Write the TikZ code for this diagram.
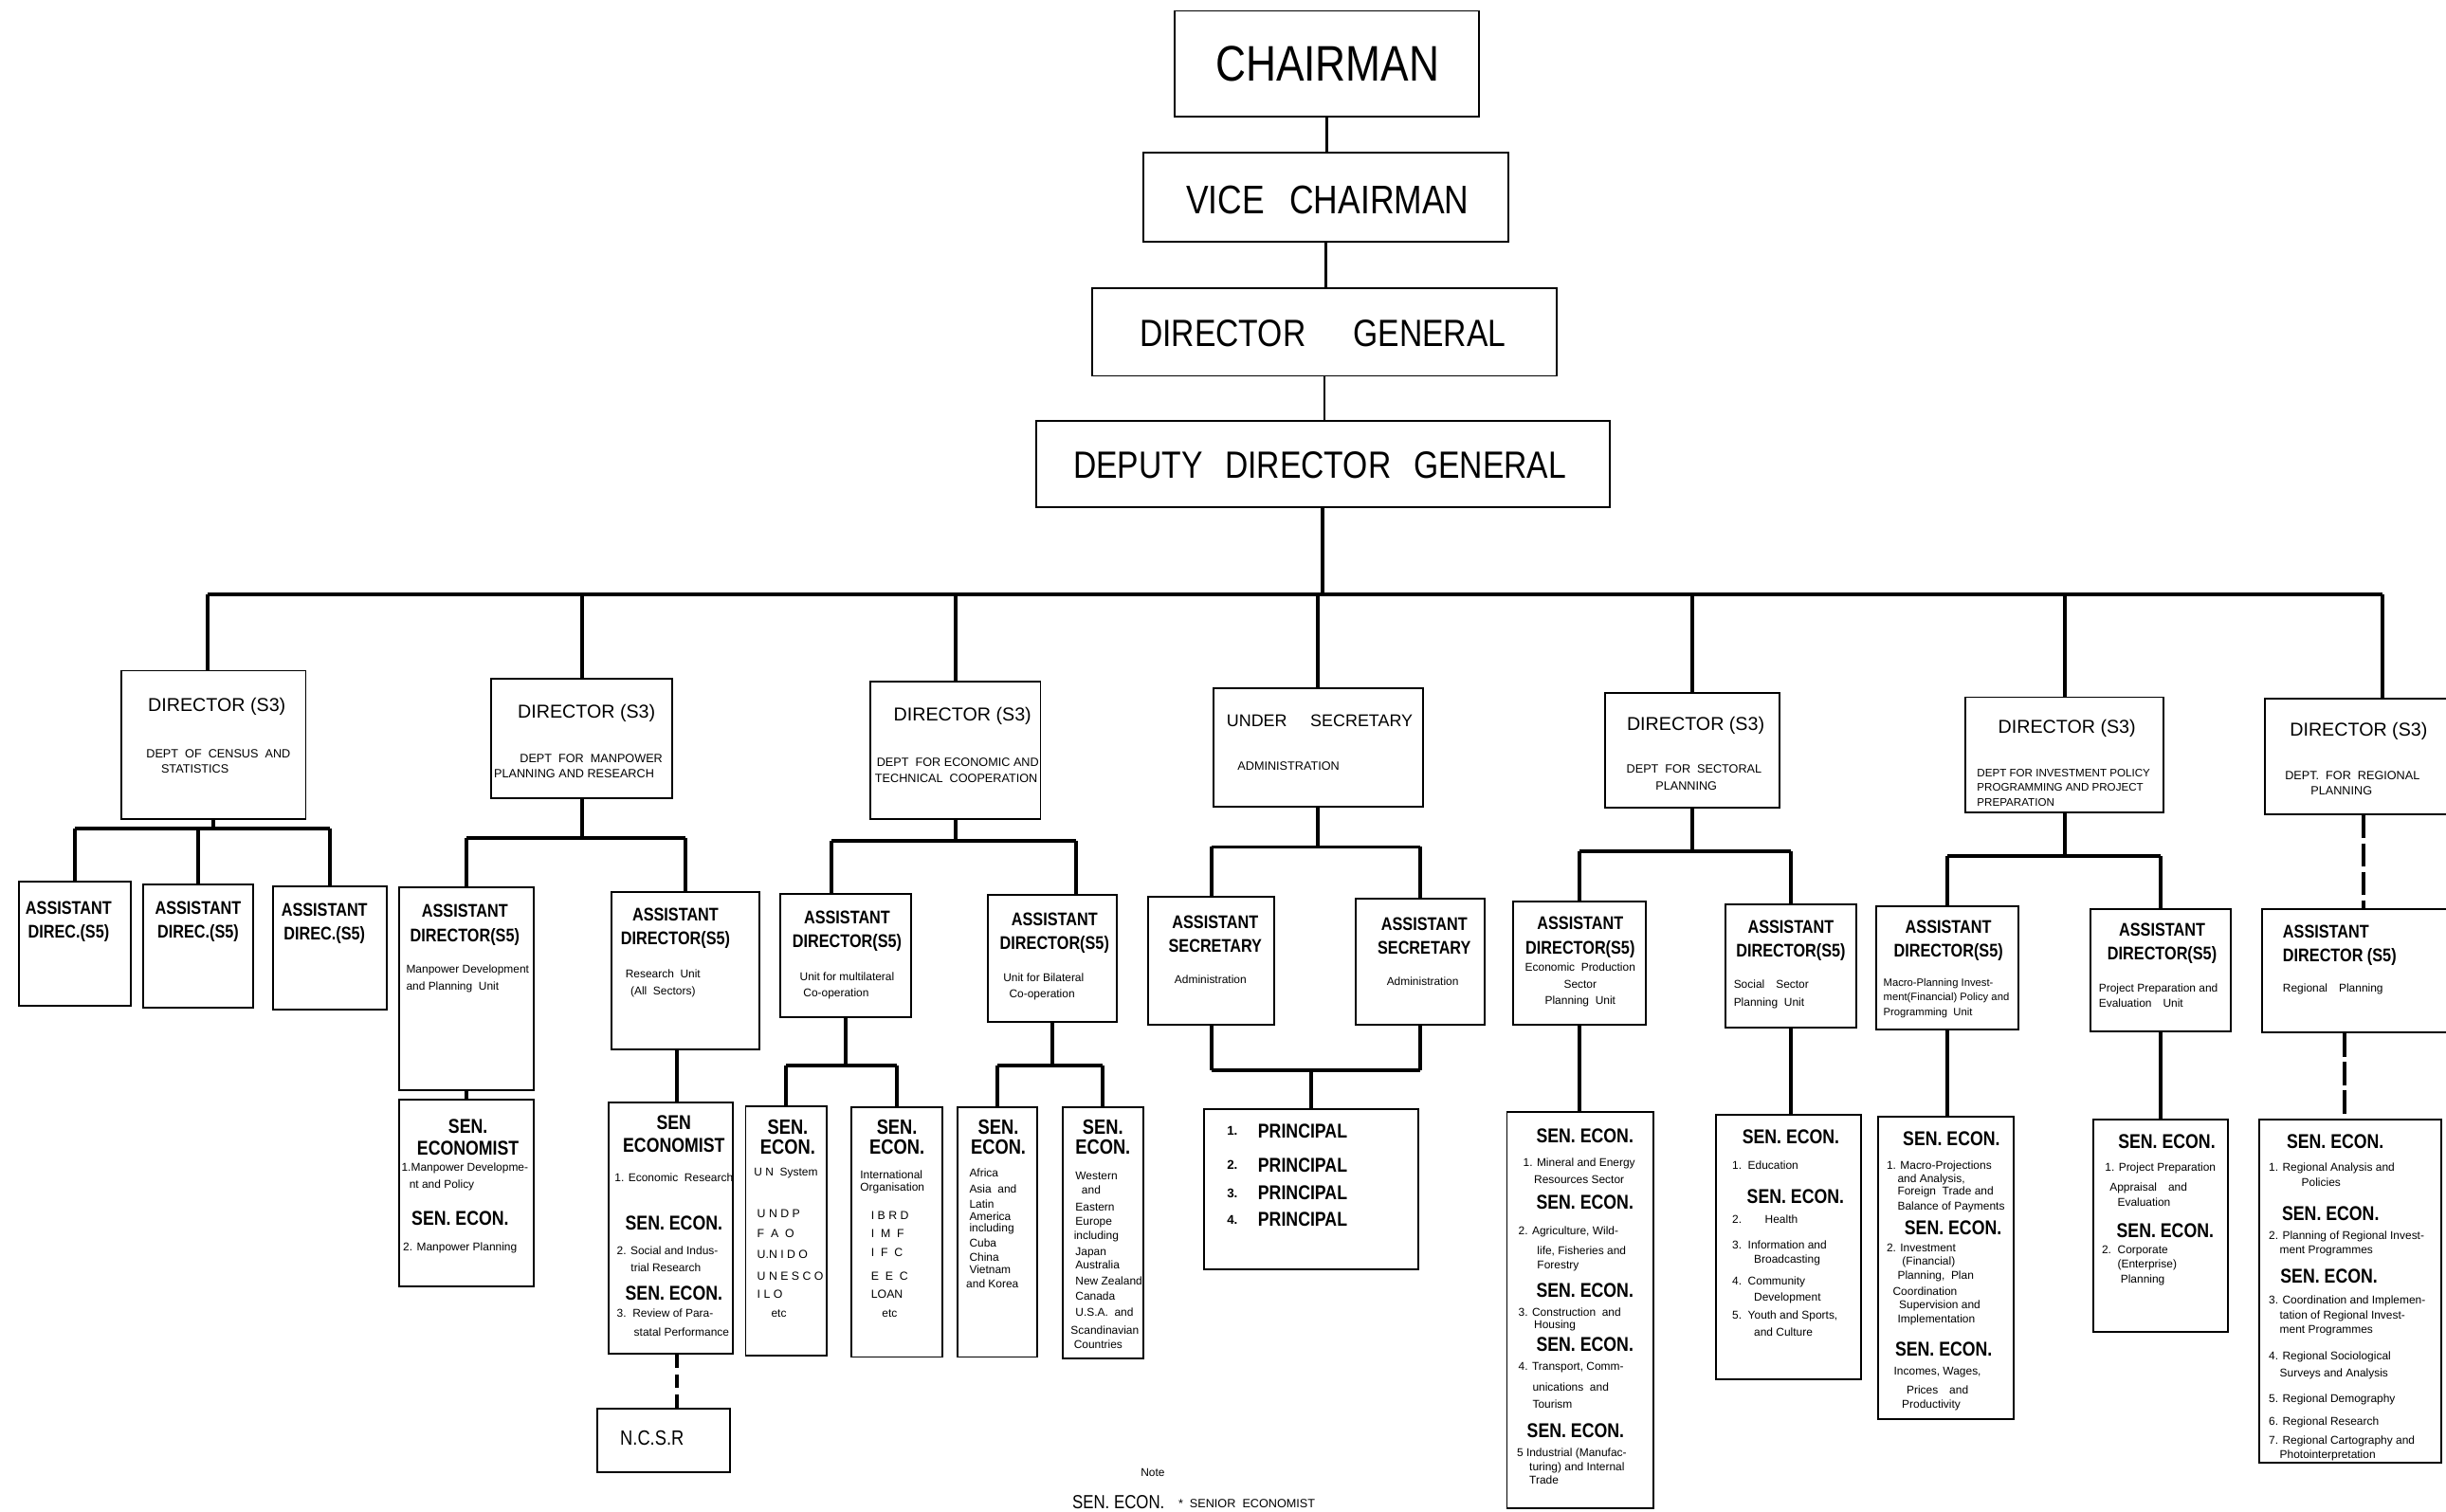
\documentclass[tikz,border=0pt]{standalone}
\usepackage{fontspec}
\setmainfont{Liberation Sans}
\usepackage{graphicx}
\usetikzlibrary{fit}
\newcommand{\nrw}[1]{\scalebox{0.84}[1]{#1}}
\begin{document}
\begin{tikzpicture}[x=0.016454cm,y=-0.016454cm,
  bx/.style={draw,line width=0.55pt,inner sep=0pt},
  conn/.style={line width=1.1pt},
  tconn/.style={line width=0.7pt},
  rdash/.style={line width=1.1pt,dash pattern=on 7pt off 1.5pt},
  ndash/.style={line width=1.3pt,dash pattern=on 4pt off 2pt},
  lbl/.style={inner sep=0pt,align=center},
  lt/.style={inner sep=0pt,anchor=west,align=left},
  fA/.style={font=\fontsize{15}{18}\selectfont},
  fB/.style={font=\fontsize{12}{14}\selectfont},
  fC/.style={font=\fontsize{11.4}{14}\selectfont},
  fD/.style={font=\fontsize{5.6}{7}\selectfont},
  fE/.style={font=\fontsize{3.6}{4.7}\selectfont},
  fF/.style={font=\fontsize{5.5}{7.2}\selectfont\bfseries},
  fG/.style={font=\fontsize{6.0}{6.6}\selectfont\bfseries},
  fS/.style={font=\fontsize{3.4}{4.4}\selectfont},
]
\path[use as bounding box,fill=white] (0,0) rectangle (1568,969);

% ---------- top chain ----------
\node[bx,fit={(753,7)(948,75)}] (chair) {};
\node[lbl,fA] (chairT) at (851,41) {\nrw{CHAIRMAN}};
\node[bx,fit={(733,98)(967,155)}] (vice) {};
\node[lbl,fB] (viceT) at (851,128) {\nrw{VICE\hspace{9pt}CHAIRMAN}};
\node[bx,fit={(700,185)(998,241)}] (dg) {};
\node[lbl,fC] (dgT) at (848,214) {\nrw{DIRECTOR\hspace{17pt}GENERAL}};
\node[bx,fit={(664,270)(1032,325)}] (ddg) {};
\node[lbl,fC] (ddgT) at (846,298) {\nrw{DEPUTY\hspace{8pt}DIRECTOR\hspace{8pt}GENERAL}};

\draw[tconn] (chair.south) -- (chair.south |- vice.north);
\draw[tconn] (vice.south) -- (vice.south |- dg.north);
\draw[tconn] (dg.south) -- (dg.south |- ddg.north);

% ---------- directors ----------
\node[bx,fit={(78,430)(196,525)}] (d1) {};
\node[lbl,fD] (d1T) at (139,453) {DIRECTOR (S3)};
\node[lbl,fE] (d1a) at (140,483) {DEPT\ \ OF\ \ CENSUS\ \ AND};
\node[lbl,fE] (d1b) at (125,493) {STATISTICS};

\node[bx,fit={(315,435)(431,512)}] (d2) {};
\node[lbl,fD] (d2T) at (376,457) {DIRECTOR (S3)};
\node[lbl,fE] (d2a) at (379,486) {DEPT\ \ FOR\ \ MANPOWER};
\node[lbl,fE] (d2b) at (368,496) {PLANNING AND RESEARCH};

\node[bx,fit={(558,437)(667,525)}] (d3) {};
\node[lbl,fD] (d3T) at (617,459) {DIRECTOR (S3)};
\node[lbl,fE] (d3a) at (614,489) {DEPT\ \ FOR ECONOMIC AND};
\node[lbl,fE] (d3b) at (613,499) {TECHNICAL\ \ COOPERATION};

\node[bx,fit={(778,441)(912,517)}] (d4) {};
\node[lbl,font=\fontsize{5.1}{7}\selectfont] (d4T) at (846,462) {UNDER\hspace{7pt}SECRETARY};
\node[lbl,fE] (d4a) at (826,491) {ADMINISTRATION};

\node[bx,fit={(1029,444)(1141,518)}] (d5) {};
\node[lbl,fD] (d5T) at (1087,465) {DIRECTOR (S3)};
\node[lbl,fE] (d5a) at (1086,493) {DEPT\ \ FOR\ \ SECTORAL};
\node[lbl,fE] (d5b) at (1081,504) {PLANNING};

\node[bx,fit={(1260,447)(1387,521)}] (d6) {};
\node[lbl,fD] (d6T) at (1325,467) {DIRECTOR (S3)};
\node[lt,font=\fontsize{3.3}{4.3}\selectfont] (d6a) at (1267,505) {DEPT FOR INVESTMENT POLICY\\PROGRAMMING AND PROJECT\\PREPARATION};

\node[bx,fit={(1452,448)(1580,522)}] (d7) {};
\node[lbl,fD] (d7T) at (1512,469) {DIRECTOR (S3)};
\node[lbl,fE] (d7a) at (1508,497) {DEPT.\ \ FOR\ \ REGIONAL};
\node[lbl,fE] (d7b) at (1501,507) {PLANNING};

% main bus
\coordinate (busL) at (133,381);
\coordinate (busR) at (1527,381);
\draw[conn] (ddg.south) -- (ddg.south |- busL);
\draw[conn] (busL) -- (busR);
\draw[conn] (busL) -- (busL |- d1.north);
\foreach \d in {d2,d3,d4,d5,d6} \draw[conn] (\d.north |- busL) -- (\d.north);
\draw[conn] (busR) -- (busR |- d7.north);

% ---------- assistants ----------
\node[bx,fit={(12,565)(84,645)}] (a11) {};
\node[lbl,fF] (a11T) at (44,591) {\nrw{ASSISTANT}\\\nrw{DIREC.(S5)}};
\node[bx,fit={(92,567)(162,646)}] (a12) {};
\node[lbl,fF] (a12T) at (127,591) {\nrw{ASSISTANT}\\\nrw{DIREC.(S5)}};
\node[bx,fit={(175,568)(248,647)}] (a13) {};
\node[lbl,fF] (a13T) at (208,592) {\nrw{ASSISTANT}\\\nrw{DIREC.(S5)}};

\node[bx,fit={(256,569)(342,699)}] (a21) {};
\node[lbl,fF] (a21T) at (298,593) {\nrw{ASSISTANT}\\\nrw{DIRECTOR(S5)}};
\node[lt,fS] (a21a) at (260,622) {Manpower Development};
\node[lt,fS] (a21b) at (260,633) {and Planning\ \ Unit};

\node[bx,fit={(392,572)(487,673)}] (a22) {};
\node[lbl,fF] (a22T) at (433,595) {\nrw{ASSISTANT}\\\nrw{DIRECTOR(S5)}};
\node[lbl,fS] (a22a) at (425,624) {Research\ \ Unit};
\node[lbl,fS] (a22b) at (425,636) {(All\ \ Sectors)};

\node[bx,fit={(500,573)(584,652)}] (a31) {};
\node[lbl,fF] (a31T) at (543,597) {\nrw{ASSISTANT}\\\nrw{DIRECTOR(S5)}};
\node[lbl,fS] (a31a) at (543,626) {Unit for multilateral};
\node[lbl,fS] (a31b) at (536,637) {Co-operation};

\node[bx,fit={(633,574)(716,655)}] (a32) {};
\node[lbl,fF] (a32T) at (676,598) {\nrw{ASSISTANT}\\\nrw{DIRECTOR(S5)}};
\node[lbl,fS] (a32a) at (669,627) {Unit for Bilateral};
\node[lbl,fS] (a32b) at (668,638) {Co-operation};

\node[bx,fit={(736,575)(817,657)}] (a41) {};
\node[lbl,fF] (a41T) at (779,599) {\nrw{ASSISTANT}\\\nrw{SECRETARY}};
\node[lbl,fS] (a41a) at (776,628) {Administration};

\node[bx,fit={(869,576)(952,657)}] (a42) {};
\node[lbl,fF] (a42T) at (913,600) {\nrw{ASSISTANT}\\\nrw{SECRETARY}};
\node[lbl,fS] (a42a) at (912,629) {Administration};

\node[bx,fit={(970,578)(1055,657)}] (a51) {};
\node[lbl,fF] (a51T) at (1013,601) {\nrw{ASSISTANT}\\\nrw{DIRECTOR(S5)}};
\node[lbl,fS] (a51a) at (1013,620) {Economic\ \ Production};
\node[lbl,fS] (a51b) at (1013,631) {Sector};
\node[lbl,fS] (a51c) at (1013,642) {Planning\ \ Unit};

\node[bx,fit={(1106,580)(1190,659)}] (a52) {};
\node[lbl,fF] (a52T) at (1148,603) {\nrw{ASSISTANT}\\\nrw{DIRECTOR(S5)}};
\node[lt,fS] (a52a) at (1111,631) {Social\quad Sector};
\node[lt,fS] (a52b) at (1111,643) {Planning\ \ Unit};

\node[bx,fit={(1203,581)(1294,660)}] (a61) {};
\node[lbl,fF] (a61T) at (1249,603) {\nrw{ASSISTANT}\\\nrw{DIRECTOR(S5)}};
\node[lt,font=\fontsize{3.2}{4.3}\selectfont] (a61a) at (1207,640) {Macro-Planning Invest-\\ment(Financial) Policy and\\Programming\ \ Unit};

\node[bx,fit={(1340,583)(1430,661)}] (a62) {};
\node[lbl,fF] (a62T) at (1386,605) {\nrw{ASSISTANT}\\\nrw{DIRECTOR(S5)}};
\node[lt,fS] (a62a) at (1345,634) {Project Preparation and};
\node[lt,fS] (a62b) at (1345,643) {Evaluation\quad Unit};

\node[bx,fit={(1450,583)(1580,662)}] (a7) {};
\node[lt,fF] (a7T) at (1463,606) {\nrw{ASSISTANT}\\\nrw{DIRECTOR (S5)}};
\node[lt,fS] (a7a) at (1463,634) {Regional\quad Planning};

% director -> assistant connectors
\coordinate (y1) at (0,531);
\draw[conn] (d1.south) -- (d1.south |- y1);
\draw[conn] (a11.north |- y1) -- (a13.north |- y1);
\foreach \a in {a11,a12,a13} \draw[conn] (\a.north |- y1) -- (\a.north);

\coordinate (y2) at (0,537);
\draw[conn] (d2.south) -- (d2.south |- y2);
\draw[conn] (a21.north |- y2) -- (a22.north |- y2);
\foreach \a in {a21,a22} \draw[conn] (\a.north |- y2) -- (\a.north);

\coordinate (eL) at (533,539);
\coordinate (eR) at (690,539);
\draw[conn] (d3.south) -- (d3.south |- eL);
\draw[conn] (eL) -- (eR);
\draw[conn] (eL) -- (eL |- a31.north);
\draw[conn] (eR) -- (eR |- a32.north);

\coordinate (y4) at (0,543);
\draw[conn] (d4.south) -- (d4.south |- y4);
\draw[conn] (a41.north |- y4) -- (a42.north |- y4);
\foreach \a in {a41,a42} \draw[conn] (\a.north |- y4) -- (\a.north);

\coordinate (y5) at (0,546);
\draw[conn] (d5.south) -- (d5.south |- y5);
\draw[conn] (a51.north |- y5) -- (a52.north |- y5);
\foreach \a in {a51,a52} \draw[conn] (\a.north |- y5) -- (\a.north);

\coordinate (y6) at (0,549);
\draw[conn] (d6.south) -- (d6.south |- y6);
\draw[conn] (a61.north |- y6) -- (a62.north |- y6);
\foreach \a in {a61,a62} \draw[conn] (\a.north |- y6) -- (\a.north);

\coordinate (r1) at (1515,0);
\draw[rdash] (d7.south -| r1) -- (a7.north -| r1);

% ---------- third level ----------
% manpower
\node[bx,fit={(256,705)(342,825)}] (s21) {};
\node[lbl,font=\fontsize{6.0}{6.6}\selectfont\bfseries] (s21T) at (300,729) {\nrw{SEN.}\\\nrw{ECONOMIST}};
\node[lt,fS] (s21a) at (257,749) {1.Manpower Developme-};
\node[lt,fS] (s21b) at (262,760) {nt and Policy};
\node[lbl,fG] (s21c) at (295,781) {\nrw{SEN.\ ECON.}};
\node[lt,fS] (s21d) at (258,800) {2. Manpower Planning};
\draw[conn] (a21.south) -- (a21.south |- s21.north);

\node[bx,fit={(390,707)(470,868)}] (s22) {};
\node[lbl,font=\fontsize{6.0}{6.6}\selectfont\bfseries] (s22T) at (432,727) {\nrw{SEN}\\\nrw{ECONOMIST}};
\node[lbl,fS] (s22a) at (432,755) {1. Economic\ \ Research};
\node[lbl,fG] (s22b) at (432,784) {\nrw{SEN.\ ECON.}};
\node[lt,fS] (s22c) at (395,802) {2. Social and Indus-};
\node[lt,fS] (s22d) at (404,813) {trial Research};
\node[lbl,fG] (s22e) at (432,829) {\nrw{SEN.\ ECON.}};
\node[lt,fS] (s22f) at (395,842) {3.\ \ Review of Para-};
\node[lt,fS] (s22g) at (406,854) {statal Performance};
\coordinate (m2) at (434,0);
\draw[conn] (a22.south -| m2) -- (s22.north -| m2);

\node[bx,fit={(383,903)(468,944)}] (ncsr) {};
\node[lbl,font=\fontsize{6.2}{7}\selectfont] (ncsrT) at (418,922) {\nrw{N.C.S.R}};
\draw[ndash] (s22.south -| m2) -- (ncsr.north -| m2);

% economic & technical cooperation
\node[bx,fit={(478,709)(530,869)}] (s31) {};
\node[lbl,font=\fontsize{6.2}{5.8}\selectfont\bfseries] (s31T) at (505,729) {\nrw{SEN.}\\\nrw{ECON.}};
\node[lt,fS] (s31a) at (483,752) {U N\ \ System};
\foreach \y/\txt [count=\i] in {778/{U N D P},791/{F\ \ A\ \ O},804/{U.N I D O},818/{U N E S C O},830/{I L O}}
  \node[lt,font=\fontsize{3.5}{4}\selectfont] (s31l\i) at (485,\y) {\txt};
\node[lt,fS] (s31e) at (494,842) {etc};

\node[bx,fit={(546,710)(604,870)}] (s32) {};
\node[lbl,font=\fontsize{6.2}{5.8}\selectfont\bfseries] (s32T) at (575,729) {\nrw{SEN.}\\\nrw{ECON.}};
\node[lt,fS] (s32a) at (551,753) {International};
\node[lt,fS] (s32b) at (551,762) {Organisation};
\foreach \y/\txt [count=\i] in {779/{I B R D},791/{I\ \ M\ \ F},803/{I\ \ F\ \ C},818/{E\ \ E\ \ C},830/{LOAN}}
  \node[lt,font=\fontsize{3.5}{4}\selectfont] (s32l\i) at (558,\y) {\txt};
\node[lt,fS] (s32e) at (565,842) {etc};

\node[bx,fit={(614,710)(665,870)}] (s33) {};
\node[lbl,font=\fontsize{6.2}{5.8}\selectfont\bfseries] (s33T) at (640,729) {\nrw{SEN.}\\\nrw{ECON.}};
\foreach \x/\y/\txt [count=\i] in {621/752/Africa,621/762/{Asia\ \ and},621/772/Latin,621/780/America,621/788/including,621/797/Cuba,621/806/China,621/814/Vietnam,619/823/{and Korea}}
  \node[lt,fS] (s33l\i) at (\x,\y) {\txt};

\node[bx,fit={(681,710)(733,871)}] (s34) {};
\node[lbl,font=\fontsize{6.2}{5.8}\selectfont\bfseries] (s34T) at (707,729) {\nrw{SEN.}\\\nrw{ECON.}};
\foreach \x/\y/\txt [count=\i] in {689/754/Western,693/763/and,689/774/Eastern,689/784/Europe,688/793/including,689/803/Japan,689/811/Australia,689/821/{New Zealand},689/831/Canada,689/841/{U.S.A.\ \ and},686/853/Scandinavian,688/862/Countries}
  \node[lt,fS] (s34l\i) at (\x,\y) {\txt};

\coordinate (y7) at (0,683);
\draw[conn] (a31.south) -- (a31.south |- y7);
\draw[conn] (s31.north |- y7) -- (s32.north |- y7);
\foreach \s in {s31,s32} \draw[conn] (\s.north |- y7) -- (\s.north);
\draw[conn] (a32.south) -- (a32.south |- y7);
\draw[conn] (s33.north |- y7) -- (s34.north |- y7);
\foreach \s in {s33,s34} \draw[conn] (\s.north |- y7) -- (\s.north);

% under secretary -> principals
\node[bx,fit={(772,711)(909,814)}] (prin) {};
\foreach \y [count=\i] in {725,747,765,782} {
  \node[lbl,font=\fontsize{3.8}{4}\selectfont\bfseries] (pn\i) at (790,\y) {\i.};
  \node[lt,fG] (pp\i) at (806,\y) {\nrw{PRINCIPAL}};
}
\coordinate (y8) at (0,686);
\draw[conn] (a41.south) -- (a41.south |- y8);
\draw[conn] (a42.south) -- (a42.south |- y8);
\draw[conn] (a41.south |- y8) -- (a42.south |- y8);
\draw[conn] (prin.north |- y8) -- (prin.north);

% sectoral
\node[bx,fit={(966,713)(1060,967)}] (s51) {};
\foreach \x/\y [count=\i] in {1016/728,1016/771,1016/827,1016/862,1010/917}
  \node[lbl,fG] (s51h\i) at (\x,\y) {\nrw{SEN.\ ECON.}};
\foreach \x/\y/\txt [count=\i] in {976/746/{1. Mineral and Energy},983/756/{Resources Sector},973/790/{2. Agriculture, Wild-},985/802/{life, Fisheries and},985/812/{Forestry},973/841/{3. Construction\ \ and},983/850/{Housing},973/877/{4. Transport, Comm-},982/889/{unications\ \ and},982/900/{Tourism},972/932/{5 Industrial (Manufac-},980/941/{turing) and Internal},980/949/{Trade}}
  \node[lt,fS] (s51l\i) at (\x,\y) {\txt};
\draw[conn] (a51.south) -- (a51.south |- s51.north);

\node[bx,fit={(1100,715)(1193,884)}] (s52) {};
\node[lbl,fG] (s52h1) at (1148,729) {\nrw{SEN.\ ECON.}};
\node[lbl,fG] (s52h2) at (1151,767) {\nrw{SEN.\ ECON.}};
\foreach \x/\y/\txt [count=\i] in {1110/747/{1.\ \ Education},1110/782/{2.\hspace{7pt}Health},1110/798/{3.\ \ Information and},1124/808/{Broadcasting},1110/822/{4.\ \ Community},1124/832/{Development},1110/844/{5.\ \ Youth and Sports,},1124/854/{and Culture}}
  \node[lt,fS] (s52l\i) at (\x,\y) {\txt};
\draw[conn] (a52.south) -- (a52.south |- s52.north);

% investment
\node[bx,fit={(1204,716)(1291,910)}] (s61) {};
\foreach \x/\y [count=\i] in {1251/730,1252/787,1246/865}
  \node[lbl,fG] (s61h\i) at (\x,\y) {\nrw{SEN.\ ECON.}};
\foreach \x/\y/\txt [count=\i] in {1209/748/{1. Macro-Projections},1216/756/{and Analysis,},1216/764/{Foreign\ \ Trade and},1216/774/{Balance of Payments},1209/800/{2. Investment},1219/809/{(Financial)},1216/818/{Planning,\ \ Plan},1213/828/{Coordination},1217/837/{Supervision and},1216/846/{Implementation}}
  \node[lt,fS] (s61l\i) at (\x,\y) {\txt};
\foreach \x/\y/\txt [count=\i] in {1242/880/{Incomes, Wages,},1242/891/{Prices\quad and},1238/901/{Productivity}}
  \node[lbl,fS] (s61m\i) at (\x,\y) {\txt};
\draw[conn] (a61.south) -- (a61.south |- s61.north);

\node[bx,fit={(1342,718)(1428,854)}] (s62) {};
\node[lbl,fG] (s62h1) at (1389,732) {\nrw{SEN.\ ECON.}};
\node[lbl,fG] (s62h2) at (1388,789) {\nrw{SEN.\ ECON.}};
\foreach \x/\y/\txt [count=\i] in {1349/749/{1. Project Preparation},1352/762/{Appraisal\quad and},1357/771/{Evaluation},1347/802/{2.\ \ Corporate},1357/811/{(Enterprise)},1359/821/{Planning}}
  \node[lt,fS] (s62l\i) at (\x,\y) {\txt};
\draw[conn] (a62.south) -- (a62.south |- s62.north);

% regional
\node[bx,fit={(1448,718)(1565,938)}] (s7) {};
\foreach \x/\y [count=\i] in {1497/732,1494/778,1493/818}
  \node[lbl,fG] (s7h\i) at (\x,\y) {\nrw{SEN.\ ECON.}};
\foreach \x/\y/\txt [count=\i] in {1454/749/{1. Regional Analysis and},1475/758/{Policies},1454/793/{2. Planning of Regional Invest-},1461/802/{ment Programmes},1454/834/{3. Coordination and Implemen-},1461/844/{tation of Regional Invest-},1461/853/{ment Programmes},1454/870/{4. Regional Sociological},1461/881/{Surveys and Analysis},1454/897/{5. Regional Demography},1454/912/{6. Regional Research},1454/924/{7. Regional Cartography and},1461/933/{Photointerpretation}}
  \node[lt,fS] (s7l\i) at (\x,\y) {\txt};
\coordinate (r2) at (1503,0);
\draw[rdash] (a7.south -| r2) -- (s7.north -| r2);

% note
\node[lbl,fS] (note) at (739,944) {Note};
\node[lt,font=\fontsize{5.7}{6}\selectfont] (noteA) at (687,963) {\nrw{SEN.\ ECON.}};
\node[lt,font=\fontsize{3.6}{4}\selectfont] (noteB) at (755,964) {*\ \ SENIOR\ \ ECONOMIST};
\end{tikzpicture}
\end{document}
